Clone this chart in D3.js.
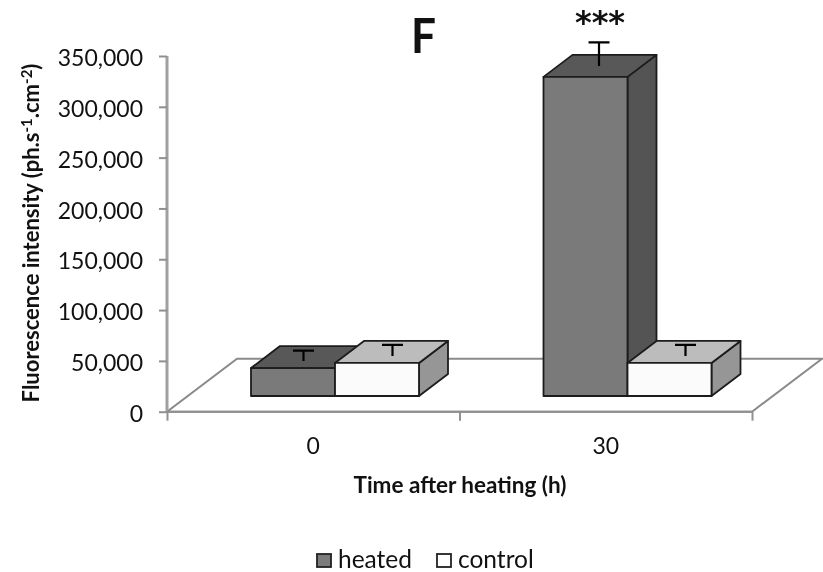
<!DOCTYPE html>
<html><head><meta charset="utf-8">
<script src="https://cdnjs.cloudflare.com/ajax/libs/d3/7.8.5/d3.min.js"></script>
<style>html,body{margin:0;background:#fff}svg{display:block;filter:blur(0.45px)}text{font-family:Lato,"Open Sans",sans-serif;fill:#111}</style>
</head><body><svg id="c" width="823" height="572"></svg>
<script>
const categories = ["0", "30"];
const seriesNames = ["heated", "control"];
const heated = [27500, 314000];
const control = [32500, 32500];
const heatedErrUp = [6400, 23100];
const controlErrUp = [7000, 7000];
const yTicks = [0, 50000, 100000, 150000, 200000, 250000, 300000, 350000];

const palette = {
  heated: {front: "#7a7a7a", top: "#585858", side: "#545454"},
  control: {front: "#fbfbfb", top: "#bcbcbc", side: "#969696"}
};
const depth = {dx: 29, dy: -22};
const floorDepth = {dx: 70, dy: -53};
const baseLift = 15.7;
const errNudge = {"0heated": -4, "0control": 1, "30heated": -1, "30control": 1.5};

const svg = d3.select("#c");
const y = d3.scaleLinear().domain([0, 350000]).range([411.7, 56]);
const x = d3.scaleBand().domain(categories).range([167, 752]);
const inner = d3.scaleBand().domain(seriesNames).range([84, 252]);
const values = {heated, control};
const errs = {heated: heatedErrUp, control: controlErrUp};

// floor
const fl = [[x.range()[0], y(0)], [x.range()[1], y(0)],
  [x.range()[1] + floorDepth.dx, y(0) + floorDepth.dy], [x.range()[0] + floorDepth.dx, y(0) + floorDepth.dy]];
svg.append("path").attr("d", d3.line()(fl) + "Z").attr("fill", "#fff").attr("stroke", "#8a8a8a").attr("stroke-width", 2);

// axes
const yAxis = d3.axisLeft(y).tickValues(yTicks).tickFormat(d3.format(",")).tickSize(8).tickPadding(16);
const gy = svg.append("g").attr("transform", `translate(${x.range()[0]},0)`).call(yAxis);
const xAxis = d3.axisBottom(d3.scalePoint().domain(["a", "b", "c"]).range(x.range())).tickSize(9).tickFormat("");
const gx = svg.append("g").attr("transform", `translate(0,${y(0)})`).call(xAxis);
[gy, gx].forEach(g => {
  g.selectAll("path,line").attr("stroke", "#909090").attr("stroke-width", 2);
  g.select("path").attr("d", g === gy ? `M0,${y.range()[1]}V${y(0)}` : `M${x.range()[0]},0H${x.range()[1]}`);
});
gy.select("path").attr("stroke-width", 3).attr("stroke", "#a0a0a0");
gy.selectAll("text").attr("font-size", 23).style("font-family", "Lato").attr("dy", "0.42em");

// bars
const line = d3.line();
categories.forEach((c, i) => {
  seriesNames.forEach(s => {
    const v = values[s][i], col = palette[s];
    const l = x(c) + inner(s), r = l + inner.bandwidth();
    const b = y(0) - baseLift, t = y(v) - baseLift;
    const g = svg.append("g").attr("class", "bar");
    const {dx, dy} = depth;
    const poly = (pts, fill) => g.append("path").attr("d", line(pts) + "Z").attr("fill", fill)
      .attr("stroke", "#1c1c1c").attr("stroke-width", 1.8).attr("stroke-linejoin", "round");
    poly([[r, t], [r + dx, t + dy], [r + dx, b + dy], [r, b]], col.side);
    poly([[l, t], [l + dx, t + dy], [r + dx, t + dy], [r, t]], col.top);
    poly([[l, t], [r, t], [r, b], [l, b]], col.front);
    const cx = (l + r + dx) / 2 + errNudge[c + s];
    const cy = t + dy / 2 + (v < 100000 ? 4 : 0);
    const capY = y(v + errs[s][i]) - baseLift + dy / 2;
    g.append("path").attr("d", `M${cx},${cy}V${capY}M${cx - 10.5},${capY}H${cx + 10.5}`)
      .attr("fill", "none").attr("stroke", "#000").attr("stroke-width", 2.2);
  });
});

// text
svg.append("text").attr("x", 423.5).attr("y", 53).attr("text-anchor", "middle").attr("font-size", 47).attr("font-weight", 700).attr("textLength", 25).attr("lengthAdjust", "spacingAndGlyphs").text("F");
svg.append("text").attr("x", 600).attr("y", 33).attr("text-anchor", "middle").attr("font-size", 32).attr("font-weight", 700).text("***")
  .style("font-family", "DejaVu Sans");
categories.forEach(c => svg.append("text").attr("x", x(c) + x.bandwidth() / 2).attr("y", 454)
  .attr("text-anchor", "middle").attr("font-size", 23).text(c));
svg.append("text").attr("x", 460).attr("y", 493).attr("text-anchor", "middle").attr("font-size", 22.5).attr("font-weight", 700).text("Time after heating (h)");
const yt = svg.append("text").attr("transform", "translate(39,233) rotate(-90)").attr("text-anchor", "middle")
  .attr("font-size", 22).attr("font-weight", 700);
yt.append("tspan").text("Fluorescence intensity (ph.s");
yt.append("tspan").attr("font-size", 15).attr("dy", -7).text("-1");
yt.append("tspan").attr("dy", 7).text(".cm");
yt.append("tspan").attr("font-size", 15).attr("dy", -7).text("-2");
yt.append("tspan").attr("dy", 7).text(")");

// legend
const legendX = {heated: 317, control: 437};
seriesNames.forEach(s => {
  svg.append("rect").attr("x", legendX[s]).attr("y", 554).attr("width", 14).attr("height", 13)
    .attr("fill", s === "heated" ? "#7c7c7c" : "#fff").attr("stroke", "#222").attr("stroke-width", 1.8);
  svg.append("text").attr("x", legendX[s] + 21).attr("y", 568).attr("font-size", 24.5).text(s);
});
</script></body></html>
